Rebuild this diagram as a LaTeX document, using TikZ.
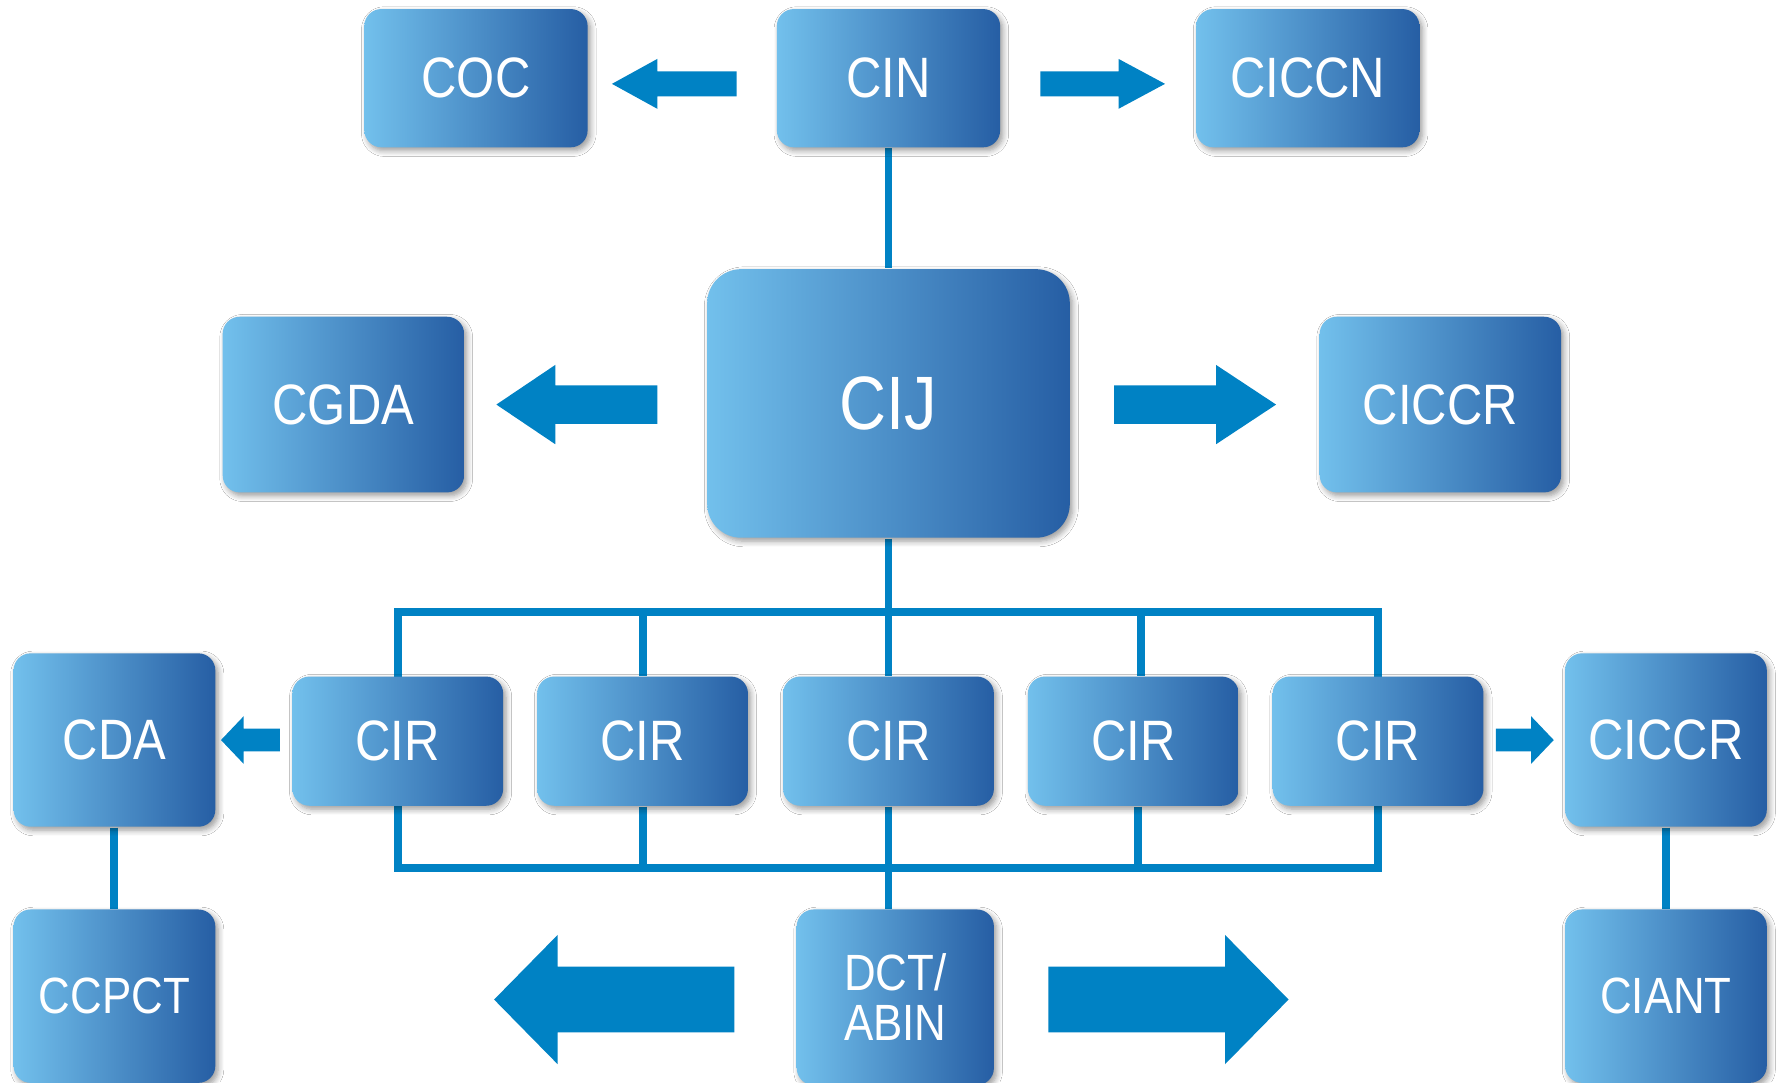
\documentclass[tikz,border=0pt]{standalone}
\usepackage{fontspec}
\setmainfont{Liberation Sans}[FakeStretch=0.86]
\usepackage{tikz}
\usetikzlibrary{shadows.blur,backgrounds}
\definecolor{white}{RGB}{255,255,255}
\definecolor{box_light}{RGB}{114,192,236}
\definecolor{box_dark}{RGB}{38,94,164}
\definecolor{link_blue}{RGB}{0,130,196}

\tikzset{
	box/.style={rounded corners=1.5mm,left color=box_light,right color=box_dark,text=white,
		font=\fontsize{14.3}{17}\selectfont,align=center,inner sep=0pt,
		blur shadow={shadow xshift=0.25mm,shadow yshift=-0.3mm,shadow blur radius=0.5mm,
			shadow blur steps=6,shadow opacity=40}},
	wire/.style={link_blue,line width=0.7mm},
	block/.style={fill=link_blue}
}

\begin{document}
\begin{tikzpicture}[x=0.1mm,y=-0.1mm]
	\clip (0,0) rectangle (1568,955);

	% top row
	\node[box,minimum width=19.7mm,minimum height=12.2mm] (coc) at (420,69) {COC};
	\node[box,minimum width=19.7mm,minimum height=12.2mm] (cin) at (784,69) {CIN};
	\node[box,minimum width=19.7mm,minimum height=12.2mm] (ciccn) at (1154,69) {CICCN};

	% middle row
	\node[box,rounded corners=3mm,minimum width=32mm,minimum height=23.7mm,
		font=\fontsize{19}{22}\selectfont] (cij) at (784,356) {CIJ};
	\node[box,minimum width=21.3mm,minimum height=15.5mm] (cgda) at (303,357) {CGDA};
	\node[box,minimum width=21.3mm,minimum height=15.5mm] (ciccr1) at (1271,357) {CICCR};

	% CIR row
	\foreach \n/\x in {1/351,2/567,3/784,4/1000,5/1216}
		\node[box,minimum width=18.6mm,minimum height=11.4mm] (cir\n) at (\x,654) {CIR};
	\node[box,minimum width=17.8mm,minimum height=15.3mm] (cda) at (101,653) {CDA};
	\node[box,minimum width=17.8mm,minimum height=15.3mm] (ciccr2) at (1470,653) {CICCR};

	% bottom row
	\node[box,minimum width=17.8mm,minimum height=15.3mm,font=\fontsize{12.8}{15}\selectfont] (ccpct) at (101,879) {CCPCT};
	\node[box,minimum width=17.8mm,minimum height=15.3mm,font=\fontsize{12.8}{15}\selectfont] (ciant) at (1470,879) {CIANT};
	\node[box,minimum width=17.4mm,minimum height=15.5mm,font=\fontsize{12.8}{12.6}\selectfont] (abin) at (790,880) {DCT/\\ABIN};

	% links
	\begin{scope}[on background layer]
		\fill[white] (0,0) rectangle (1568,955);
		\coordinate (bt) at (784,540);
		\coordinate (bb) at (784,766);
		\draw[wire] (cir1.north |- bt) rectangle (cir5.north |- bb);
		\foreach \n/\u/\d in {2/0mm/0mm,4/0.7mm/0.4mm} {
			\draw[wire] ([xshift=\u]cir\n.north) -- ([xshift=\u]cir\n.north |- bt);
			\draw[wire] ([xshift=\d]cir\n.south) -- ([xshift=\d]cir\n.south |- bb);
		}
		\draw[wire] (cin.south) -- (cij.north);
		\draw[wire] (cij.south) -- (cir3.north);
		\draw[wire] (cir3.south) -- (abin.north -| cir3.south);
		\draw[wire] (cda.south) -- (ccpct.north);
		\draw[wire] (ciccr2.south) -- (ciant.north);
	\end{scope}

	% block arrows: tail/neck/tip/y/half shaft/half head
	\foreach \t/\k/\p/\y/\s/\h in {650/580/540/74/11/22, 918/987/1028/74/11/22,
			580/490/438/357/17/35, 983/1073/1126/357/17/35,
			247/215/195/653/10/21, 1320/1351/1371/653/10/21,
			648/492/436/882/29/57, 925/1081/1137/882/29/57}
		\fill[block] (\t,\y-\s) -- (\k,\y-\s) -- (\k,\y-\h) -- (\p,\y) -- (\k,\y+\h) -- (\k,\y+\s) -- (\t,\y+\s) -- cycle;
\end{tikzpicture}
\end{document}
